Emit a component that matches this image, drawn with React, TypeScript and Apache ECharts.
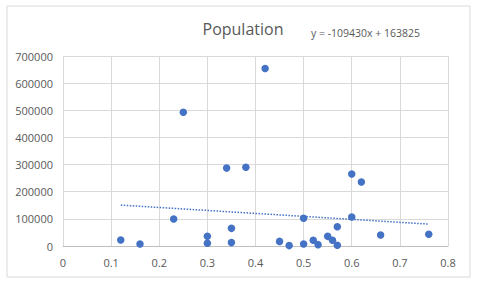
import React, { useEffect, useRef } from "react";
import * as echarts from "echarts";

const xValues = [0.12, 0.16, 0.23, 0.25, 0.3, 0.3, 0.34, 0.35, 0.35, 0.38, 0.42, 0.45, 0.47, 0.5, 0.5, 0.52, 0.53, 0.55, 0.56, 0.57, 0.57, 0.6, 0.6, 0.62, 0.66, 0.76];
const yValues = [22000, 7500, 99500, 493000, 35500, 10000, 287000, 65000, 12500, 290000, 654000, 17000, 1500, 102000, 7500, 21000, 5000, 35500, 21000, 2500, 71000, 265000, 107000, 236000, 40500, 43000];
const trendSlope = -109430;
const trendIntercept = 163825;
const trendX = [0.12, 0.76];
const xTicks = { min: 0, max: 0.8, interval: 0.1 };
const yTicks = { min: 0, max: 700000, interval: 100000 };
const chartTitle = "Population";
const equationText = "y = -109430x + 163825";

export default function App() {
  const ref = useRef<HTMLDivElement>(null);
  useEffect(() => {
    if (!ref.current) return;
    const chart = echarts.init(ref.current, null, { renderer: "svg" });
    const font = "'Open Sans', 'Liberation Sans', sans-serif";
    const points = xValues.map((x, i) => [x, yValues[i]]);
    const trend = trendX.map((x) => [x, trendSlope * x + trendIntercept]);
    chart.setOption({
      animation: false,
      backgroundColor: "#ffffff",
      textStyle: { fontFamily: font },
      title: {
        text: chartTitle,
        left: 238,
        top: 16,
        textAlign: "center",
        textStyle: { fontFamily: font, fontSize: 16, fontWeight: "normal", color: "#595959" },
      },
      graphic: [
        {
          type: "rect",
          shape: { x: 7, y: 6, width: 463, height: 271 },
          style: { fill: "none", stroke: "#d9d9d9", lineWidth: 1 },
          silent: true,
        },
        {
          type: "text",
          x: 311,
          y: 33,
          style: {
            text: equationText,
            fill: "#595959",
            font: `10.5px ${font}`,
            verticalAlign: "middle",
          },
        },
      ],
      grid: { left: 63, right: 32, top: 56, bottom: 36 },
      xAxis: {
        type: "value",
        min: xTicks.min,
        max: xTicks.max,
        interval: xTicks.interval,
        axisLine: { show: true, onZero: false, lineStyle: { color: "#bfbfbf", width: 1 } },
        axisTick: { show: false },
        splitLine: { show: true, lineStyle: { color: "#d9d9d9", width: 1 } },
        axisLabel: { color: "#595959", fontSize: 11, fontFamily: font, margin: 11, formatter: (v: number) => String(Math.round(v * 10) / 10) },
      },
      yAxis: {
        type: "value",
        min: yTicks.min,
        max: yTicks.max,
        interval: yTicks.interval,
        axisLine: { show: false },
        axisTick: { show: false },
        splitLine: { show: true, lineStyle: { color: "#d9d9d9", width: 1 } },
        axisLabel: { color: "#595959", fontSize: 11, fontFamily: font, margin: 10, formatter: (v: number) => String(v) },
      },
      series: [
        {
          type: "scatter",
          data: points,
          symbol: "circle",
          symbolSize: 7.5,
          itemStyle: { color: "#4472c4", opacity: 1 },
          z: 3,
        },
        {
          type: "line",
          data: trend,
          symbol: "none",
          lineStyle: { color: "#4472c4", width: 1.5, type: [1.5, 1.5] },
          z: 2,
        },
      ],
    });
    return () => chart.dispose();
  }, []);
  return <div ref={ref} style={{ width: 480, height: 282, position: "absolute", left: 0, top: 0 }} />;
}
